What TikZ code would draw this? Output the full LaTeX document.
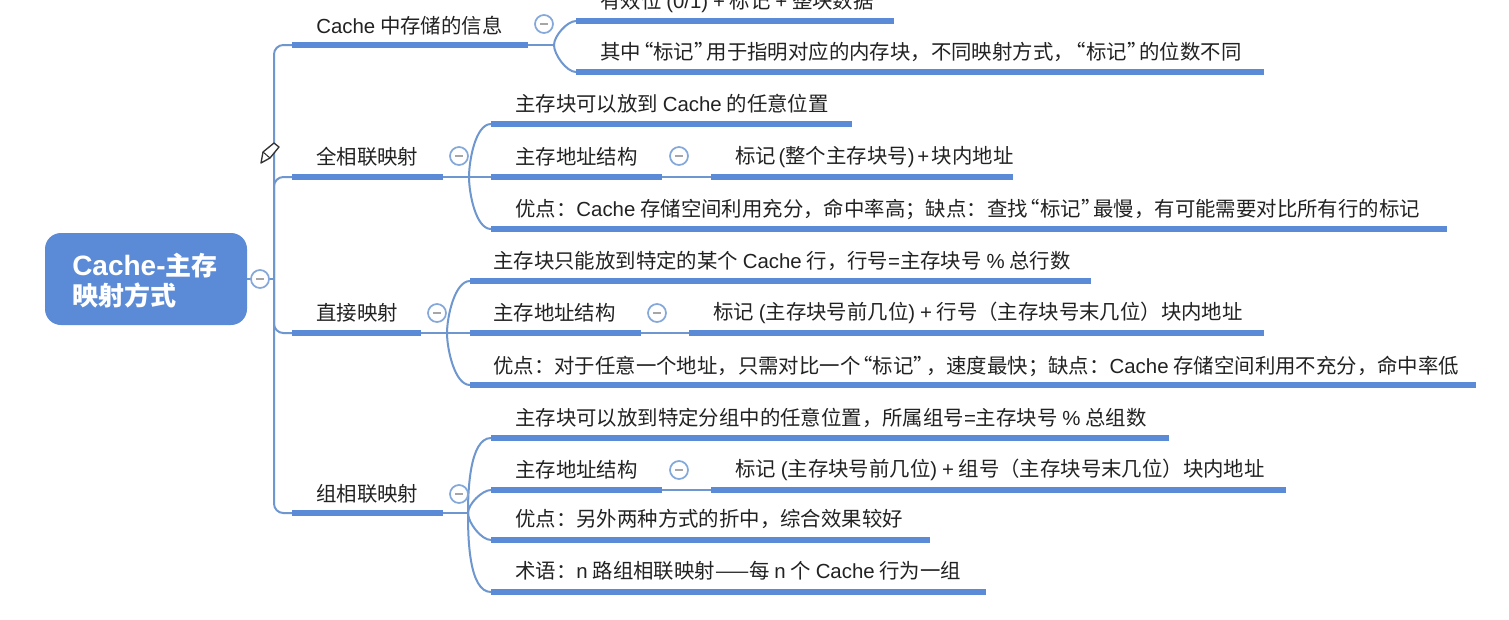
\documentclass[tikz,border=0pt]{standalone}
\usepackage{fontspec}
\setmainfont{Noto Sans CJK SC}
\newfontfamily\latinfont{Liberation Sans}
\usetikzlibrary{calc}
\definecolor{mbar}{HTML}{5B8BD6}
\definecolor{mline}{HTML}{6F97CF}
\definecolor{mring}{HTML}{85A8DA}
\definecolor{mtext}{HTML}{222222}
\newcommand{\La}[1]{{\latinfont #1}}
\newcommand{\gp}{\kern 3.6pt}
\newcommand{\qo}{\kern-6pt“}
\newcommand{\qc}{”\kern-6pt}
\newcommand{\Cc}{\La{Cache}}
\tikzset{
  x=0.75pt,y=-0.75pt,
  barline/.style={line width=3.9pt,draw=mbar,line cap=butt},
  conn/.style={line width=1.5pt,draw=mline},
  upcurve/.style={conn,out=90,in=180,looseness=0.7},
  downcurve/.style={conn,out=-90,in=180,looseness=0.7},
  lab/.style={anchor=west,inner sep=0pt,text=mtext,font=\fontsize{15.3}{18}\selectfont},
  rootlab/.style={anchor=west,inner sep=0pt,text=white,font=\fontsize{19.5}{24}\selectfont\bfseries},
  rootbox/.style={fill=mbar,rounded corners=12pt,minimum width=151.5pt,minimum height=69pt,inner sep=0pt},
  collapse/.style={circle,draw=mring,line width=1.3pt,fill=white,minimum size=13.5pt,inner sep=0pt,
    path picture={\draw[line width=0.9pt,draw=black!35] ($(path picture bounding box.center)+(-4,0)$) -- ($(path picture bounding box.center)+(4,0)$);}},
}
\newcommand{\tbar}[4]{\coordinate (#1-s) at (#2,#4);\coordinate (#1-e) at (#3,#4);\draw[barline] (#1-s) -- (#1-e);}
\begin{document}
\begin{tikzpicture}
\useasboundingbox (0,0) rectangle (1509,619);
\clip (0,0) rectangle (1509,619);
\fill[white] (0,0) rectangle (1509,619);
% junctions
\coordinate (sp) at (274,279);
\coordinate (b1) at (554,45);
\coordinate (b2) at (469,177);
\coordinate (b3) at (447,333);
\coordinate (b4) at (468,513);
% bars
\tbar{c1}{292}{528}{45}
\tbar{c2}{292}{443}{177}
\tbar{c3}{292}{421}{333}
\tbar{c4}{292}{443}{513}
\tbar{a1}{576}{894}{21}
\tbar{a2}{576}{1264}{72}
\tbar{d1}{491}{852}{124}
\tbar{d2}{491}{662}{177}
\tbar{d2x}{711}{1013}{177}
\tbar{d3}{491}{1447}{229}
\tbar{e1}{470}{1091}{281}
\tbar{e2}{470}{641}{333}
\tbar{e2x}{689}{1264}{333}
\tbar{e3}{470}{1476}{385}
\tbar{f1}{491}{1169}{438}
\tbar{f2}{491}{662}{490}
\tbar{f2x}{711}{1286}{490}
\tbar{f3}{491}{930}{540}
\tbar{f4}{491}{986}{592}
% root
\node[rootbox] (root) at (146,279) {};
\node[rootlab] (rootA) at (72,266) {{\latinfont\bfseries\fontsize{21}{24}\selectfont Cache-}主存};
\node[rootlab] (rootB) at (72,295) {映射方式};
% connectors
\draw[conn] (root.east) -- (sp);
\draw[conn,rounded corners=7pt] (sp) |- (c1-s);
\draw[conn,rounded corners=7pt] (sp) |- (c2-s);
\draw[conn,rounded corners=7pt] (sp) |- (c3-s);
\draw[conn,rounded corners=7pt] (sp) |- (c4-s);
\draw[conn] (c1-e) -- (b1);
\draw[conn] (c2-e) -- (d2-s);
\draw[conn] (c3-e) -- (e2-s);
\draw[conn] (c4-e) -- (b4);
\draw (b1) edge[upcurve] (a1-s) edge[downcurve] (a2-s);
\draw (b2) edge[upcurve] (d1-s) edge[downcurve] (d3-s);
\draw (b3) edge[upcurve] (e1-s) edge[downcurve] (e3-s);
\draw (b4) edge[upcurve] (f1-s) edge[upcurve] (f2-s) edge[downcurve] (f3-s) edge[downcurve] (f4-s);
\draw[conn] (d2-e) -- (d2x-s);
\draw[conn] (e2-e) -- (e2x-s);
\draw[conn] (f2-e) -- (f2x-s);
% collapse buttons
\node[collapse] (k0) at (260,279) {};
\node[collapse] (k1) at (544,24) {};
\node[collapse] (k2) at (459,156) {};
\node[collapse] (k2x) at (679,156) {};
\node[collapse] (k3) at (437,313) {};
\node[collapse] (k3x) at (657,313) {};
\node[collapse] (k4) at (459,494) {};
\node[collapse] (k4x) at (679,470) {};
% labels
\node[lab] (t1) at (316,26) {\Cc\gp 中存储的信息};
\node[lab] (t2) at (316,157) {全相联映射};
\node[lab] (t3) at (316,313) {直接映射};
\node[lab] (t4) at (316,494) {组相联映射};
\node[lab] (ta1) at (600,2) {有效位\gp\La{(0/1)}\gp\La{+}\gp 标记\gp\La{+}\gp 整块数据};
\node[lab] (ta2) at (600,52) {其中\qo 标记\qc 用于指明对应的内存块，不同映射方式，\qo 标记\qc 的位数不同};
\node[lab] (td1) at (515,104) {主存块可以放到\gp\Cc\gp 的任意位置};
\node[lab] (td2) at (515,157) {主存地址结构};
\node[lab] (td2x) at (735,157) {标记\kern 2pt\La{(}整个主存块号\La{)}\kern 2pt\La{+}\kern 2pt块内地址};
\node[lab] (td3) at (515,209) {优点：\Cc\gp 存储空间利用充分，命中率高；缺点：查找\qo 标记\qc 最慢，有可能需要对比所有行的标记};
\node[lab] (te1) at (493,261) {主存块只能放到特定的某个\gp\Cc\gp 行，行号\La{=}主存块号\gp\La{\%}\gp 总行数};
\node[lab] (te2) at (493,313) {主存地址结构};
\node[lab] (te2x) at (713,313) {标记\gp\La{(}主存块号前几位\La{)}\gp\La{+}\gp 行号（主存块号末几位）块内地址};
\node[lab] (te3) at (493,366) {优点：对于任意一个地址，只需对比一个\qo 标记\qc ，速度最快；缺点：\Cc\gp 存储空间利用不充分，命中率低};
\node[lab] (tf1) at (515,418) {主存块可以放到特定分组中的任意位置，所属组号\La{=}主存块号\gp\La{\%}\gp 总组数};
\node[lab] (tf2) at (515,470) {主存地址结构};
\node[lab] (tf2x) at (735,470) {标记\gp\La{(}主存块号前几位\La{)}\gp\La{+}\gp 组号（主存块号末几位）块内地址};
\node[lab] (tf3) at (515,519) {优点：另外两种方式的折中，综合效果较好};
\node[lab] (tf4) at (515,571) {术语：\La{n}\gp 路组相联映射——每\gp\La{n}\gp 个\gp\Cc\gp 行为一组};
% pencil icon
\draw[line width=1pt,draw=black!80,fill=white,line join=round] (261,163) -- (263,152) -- (274,143) -- (279,147) -- (270,158) -- cycle;
\draw[line width=0.8pt,draw=black!80] (263,152) -- (270,158);
\end{tikzpicture}
\end{document}
